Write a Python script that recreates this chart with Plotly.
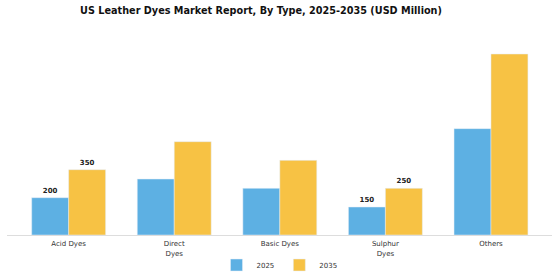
import plotly.graph_objects as go

categories = ["Acid Dyes", "Direct<br>Dyes", "Basic Dyes", "Sulphur<br>Dyes", "Others"]
values_2025 = [200, 300, 250, 150, 570]
values_2035 = [350, 500, 400, 250, 970]
labels_2025 = ["200", "", "", "150", ""]
labels_2035 = ["350", "", "", "250", ""]

blue = "#5DB0E3"
yellow = "#F7C244"
font_family = "DejaVu Sans"

fig = go.Figure()
fig.add_trace(go.Bar(
    name="2025", x=categories, y=values_2025, marker_color=blue,
    text=labels_2025, textposition="outside", cliponaxis=False,
    textfont=dict(family=font_family, size=7, color="#222222", weight="bold"),
))
fig.add_trace(go.Bar(
    name="2035", x=categories, y=values_2035, marker_color=yellow,
    text=labels_2035, textposition="outside", cliponaxis=False,
    textfont=dict(family=font_family, size=7, color="#222222", weight="bold"),
))

fig.update_layout(
    width=560, height=280,
    margin=dict(l=7, r=8, t=40, b=45, autoexpand=False),
    paper_bgcolor="white", plot_bgcolor="white",
    barmode="group", bargap=0.30, bargroupgap=0,
    font=dict(family=font_family, size=7, color="#333333"),
    title=dict(
        text="<b>US Leather Dyes Market Report, By Type, 2025-2035 (USD Million)</b>",
        xref="paper", x=(261 - 7) / 545, xanchor="center", y=1 - 11 / 280, yanchor="middle",
        font=dict(family=font_family, size=9.7, color="#111111"),
    ),
    legend=dict(
        orientation="h", x=0.5, xanchor="center",
        yref="container", y=1 - 265 / 280, yanchor="middle",
        font=dict(family=font_family, size=7, color="#333333"),
    ),
    showlegend=True,
)
fig.update_xaxes(
    range=[-0.584, 4.578], showline=True, linecolor="#DDDDDD", linewidth=1,
    ticks="", showgrid=False, tickfont=dict(size=7, color="#333333"),
    ticklabelstandoff=2,
)
fig.update_yaxes(range=[0, 1045], visible=False, showgrid=False)

fig.write_html("out.html")
